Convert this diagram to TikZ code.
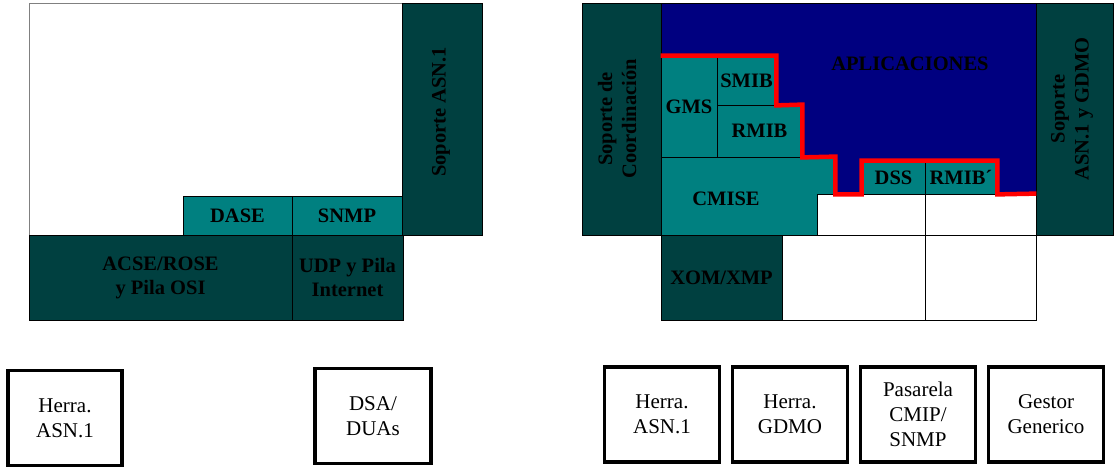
\documentclass[tikz,border=0pt]{standalone}
\usepackage{fontspec}
\setmainfont{Liberation Serif}
\usetikzlibrary{positioning}
\usepackage{xcolor}
\definecolor{darkteal}{RGB}{0,64,64}
\definecolor{tealc}{RGB}{0,128,128}
\definecolor{navyc}{RGB}{0,0,128}
\tikzset{
    block/.style={
        rectangle,
        draw=black,
        line width=0.8pt,
        inner sep=0pt,
        align=center,
        font=\fontsize{20.5}{24}\selectfont\bfseries
    },
    darkblock/.style={
        block,
        fill=darkteal
    },
    tealblock/.style={
        block,
        fill=tealc
    },
    whiteblock/.style={
        block,
        fill=white
    },
    lbl/.style={
        inner sep=0pt,
        align=center,
        font=\fontsize{20.5}{24}\selectfont\bfseries
    },
    toolbox/.style={
        rectangle,
        draw=black,
        line width=3.5pt,
        fill=white,
        inner sep=0pt,
        align=center,
        minimum width=115pt,
        minimum height=95pt,
        font=\fontsize{21}{25}\selectfont
    },
    redline/.style={
        red,
        line width=4.5pt
    }
}

\begin{document}
\begin{tikzpicture}[x=1pt,y=-1pt]

      \useasboundingbox (0,0) rectangle (1114,468);

      % pila de la izquierda
      \node[whiteblock,draw=gray,minimum width=373pt,minimum height=232pt] (lframe) at (215.5,119) {};
      \node[tealblock,minimum width=109pt,minimum height=39pt] (dase) at (237.5,215.5) {DASE};
      \node[tealblock,minimum width=110pt,minimum height=39pt] (snmp) at (347,215.5) {SNMP};
      \node[darkblock,minimum width=263pt,minimum height=85pt] (acse) at (160.5,277.5) {ACSE/ROSE\\y Pila OSI};
      \node[darkblock,minimum width=111pt,minimum height=85pt] (udp) at (347.5,277.5) {UDP y Pila\\Internet};
      \node[darkblock,minimum width=80pt,minimum height=232pt] (lasn) at (442,119) {};
      \node[lbl,rotate=90] (lasntext) at (441,112) {Soporte ASN.1};

      % pila de la derecha
      \node[block,fill=navyc,minimum width=375pt,minimum height=191pt] (aplic) at (848.5,98.5) {};
      \node[darkblock,minimum width=79pt,minimum height=232pt] (coord) at (621.5,119) {};
      \node[darkblock,minimum width=77pt,minimum height=232pt] (rasn) at (1074.5,119) {};
      \node[tealblock,minimum width=56pt,minimum height=101pt] (gms) at (689,106.5) {GMS};
      \node[tealblock,minimum width=59pt,minimum height=49pt] (smib) at (746.5,80.5) {SMIB};
      \node[tealblock,minimum width=85pt,minimum height=52pt] (rmib) at (759.5,131) {RMIB};
      \node[tealblock,minimum width=174pt,minimum height=78pt] (cmise) at (748,196) {};
      \node[tealblock,minimum width=63pt,minimum height=33pt] (dss) at (893.5,177.5) {DSS};
      \node[tealblock,minimum width=72pt,minimum height=33pt] (rmibp) at (961,177.5) {RMIB´};
      \node[whiteblock,minimum width=108pt,minimum height=41pt] (wone) at (871,214.5) {};
      \node[whiteblock,minimum width=111pt,minimum height=41pt] (wtwo) at (980.5,214.5) {};
      \node[darkblock,minimum width=121pt,minimum height=85pt] (xom) at (721.5,277.5) {XOM/XMP};
      \node[whiteblock,minimum width=143pt,minimum height=85pt] (wthree) at (853.5,277.5) {};
      \node[whiteblock,minimum width=111pt,minimum height=85pt] (wfour) at (980.5,277.5) {};

      \draw[redline] (gms.north west) -- (smib.north east) -- (smib.south east)
        -- (rmib.north east) -- (rmib.south east) -- (cmise.north east)
        -- (cmise.north east |- dss.south west) -- (dss.south west)
        -- (dss.north west) -- (rmibp.north east) -- (rmibp.south east)
        -- (wtwo.north east);

      \node[lbl] (aplictext) at (910,64) {APLICACIONES};
      \node[lbl] (cmisetext) at (726,199) {CMISE};
      \node[lbl,rotate=90] (coordtext) at (617,119) {Soporte de\\Coordinación};
      \node[lbl,rotate=90] (rasntext) at (1072,109) {Soporte\\ASN.1 y GDMO};

      % herramientas
      \node[toolbox,minimum width=114pt] (herrasn) at (65,418) {Herra.\\ASN.1};
      \node[toolbox,minimum width=116pt] (dsadua) at (373,416) {DSA/\\DUAs};
      \node[toolbox] (herrasnr) at (662,414.5) {Herra.\\ASN.1};
      \node[toolbox,right=9.5pt of herrasnr] (herrgdmo) {Herra.\\GDMO};
      \node[toolbox,right=9.5pt of herrgdmo] (pasarela) {Pasarela\\CMIP/\\SNMP};
      \node[toolbox,right=9.5pt of pasarela] (gestor) {Gestor\\Generico};

\end{tikzpicture}
\end{document}
